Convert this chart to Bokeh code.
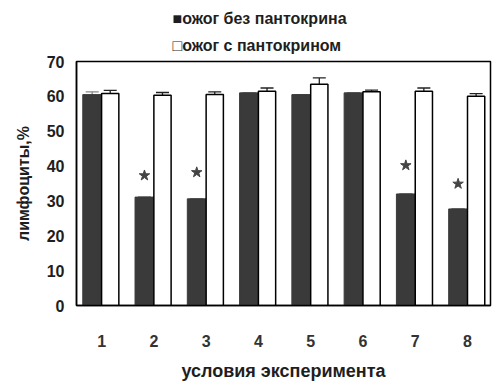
from bokeh.plotting import figure
from bokeh.models import Range1d, ColumnDataSource, FixedTicker, Whisker, TeeHead, Title
from bokeh.embed import file_html
from bokeh.resources import INLINE

# ---- data ----
groups = [1, 2, 3, 4, 5, 6, 7, 8]
tick_labels = ["1", "2", "3", "4", "5", "6", "7", "8"]
no_pantocrine = [60.5, 31.1, 30.6, 61.0, 60.5, 61.0, 32.0, 27.7]
no_pantocrine_err = [0.8, 0.0, 0.0, 0.0, 0.0, 0.0, 0.0, 0.0]
with_pantocrine = [60.8, 60.3, 60.5, 61.5, 63.5, 61.3, 61.5, 60.0]
with_pantocrine_err = [0.9, 0.8, 0.8, 0.9, 1.8, 0.5, 0.9, 0.8]
star_groups = [2, 3, 7, 8]
star_values = [37.3, 38.2, 40.2, 34.9]
series_names = ["ожог без пантокрина", "ожог с пантокрином"]
legend_marks = ["\u25A0", "\u25A1"]
y_ticks = [0, 10, 20, 30, 40, 50, 60, 70]

FONT = "Liberation Sans"
DARK = "#3a3a3a"
TXT = "#1e1e1e"

p = figure(width=496, height=390, output_backend="svg", toolbar_location=None,
           x_range=Range1d(0.52, 8.44), y_range=Range1d(0, 70),
           min_border_left=76, min_border_right=6, min_border_top=61, min_border_bottom=85)
p.background_fill_color = "white"
p.border_fill_color = "white"
p.outline_line_color = "black"
p.outline_line_width = 1.5
p.xgrid.grid_line_color = None
p.ygrid.grid_line_color = None

dark_x = [g - 0.18 for g in groups]
white_x = [g + 0.165 for g in groups]

src_d = ColumnDataSource(dict(x=dark_x, top=no_pantocrine,
                              up=[v + e for v, e in zip(no_pantocrine, no_pantocrine_err)],
                              lo=[v - e for v, e in zip(no_pantocrine, no_pantocrine_err)]))
src_w = ColumnDataSource(dict(x=white_x, top=with_pantocrine,
                              up=[v + e for v, e in zip(with_pantocrine, with_pantocrine_err)],
                              lo=[v - e for v, e in zip(with_pantocrine, with_pantocrine_err)]))

r_dark = p.vbar(x="x", top="top", width=0.36, bottom=0, source=src_d,
                fill_color=DARK, line_color=DARK, line_width=1)
r_white = p.vbar(x="x", top="top", width=0.33, bottom=0, source=src_w,
                 fill_color="white", line_color="black", line_width=1.5)

for src, col in ((src_w, "#222222"), (src_d, "#888888")):
    w = Whisker(base="x", upper="up", lower="lo", source=src,
                line_color=col, line_width=1.3,
                upper_head=TeeHead(size=13, line_color=col, line_width=1.3),
                lower_head=TeeHead(size=13, line_color=col, line_width=1.3))
    p.add_layout(w)

star_x = [g - 0.18 for g in star_groups]
p.scatter(x=star_x, y=star_values, marker="star", size=11,
          fill_color="#444444", line_color="#444444")

# axes
p.yaxis.ticker = FixedTicker(ticks=y_ticks)
p.yaxis.major_tick_line_color = None
p.yaxis.minor_tick_line_color = None
p.yaxis.axis_line_color = "black"
p.yaxis.axis_line_width = 1.5
p.yaxis.major_label_text_font = FONT
p.yaxis.major_label_text_font_style = "bold"
p.yaxis.major_label_text_font_size = "16px"
p.yaxis.major_label_text_color = TXT
p.yaxis.major_label_standoff = 6
p.yaxis.axis_label = "лимфоциты,%"
p.yaxis.axis_label_text_font = FONT
p.yaxis.axis_label_text_font_style = "bold"
p.yaxis.axis_label_text_font_size = "16px"
p.yaxis.axis_label_text_color = TXT
p.yaxis.axis_label_standoff = 12

p.xaxis.ticker = FixedTicker(ticks=groups)
p.xaxis.major_label_overrides = {g: t for g, t in zip(groups, tick_labels)}
p.xaxis.major_tick_line_color = None
p.xaxis.minor_tick_line_color = None
p.xaxis.axis_line_color = "black"
p.xaxis.axis_line_width = 1.5
p.xaxis.major_label_text_font = FONT
p.xaxis.major_label_text_font_style = "bold"
p.xaxis.major_label_text_font_size = "16px"
p.xaxis.major_label_text_color = "#333333"
p.xaxis.major_label_standoff = 23
p.xaxis.axis_label = "условия эксперимента"
p.xaxis.axis_label_text_font = FONT
p.xaxis.axis_label_text_font_style = "bold"
p.xaxis.axis_label_text_font_size = "18px"
p.xaxis.axis_label_text_color = TXT
p.xaxis.axis_label_standoff = 11

# legend rows rendered as titles above the frame
for mark, name, so in zip(legend_marks[::-1], series_names[::-1], [15, 1]):
    t = Title(text=mark + name, align="left", offset=96,
              text_font=FONT, text_font_style="bold", text_font_size="16px",
              text_color=TXT, standoff=so, text_line_height=1.0)
    p.add_layout(t, "above")

open("out.html", "w").write(file_html(p, INLINE))
